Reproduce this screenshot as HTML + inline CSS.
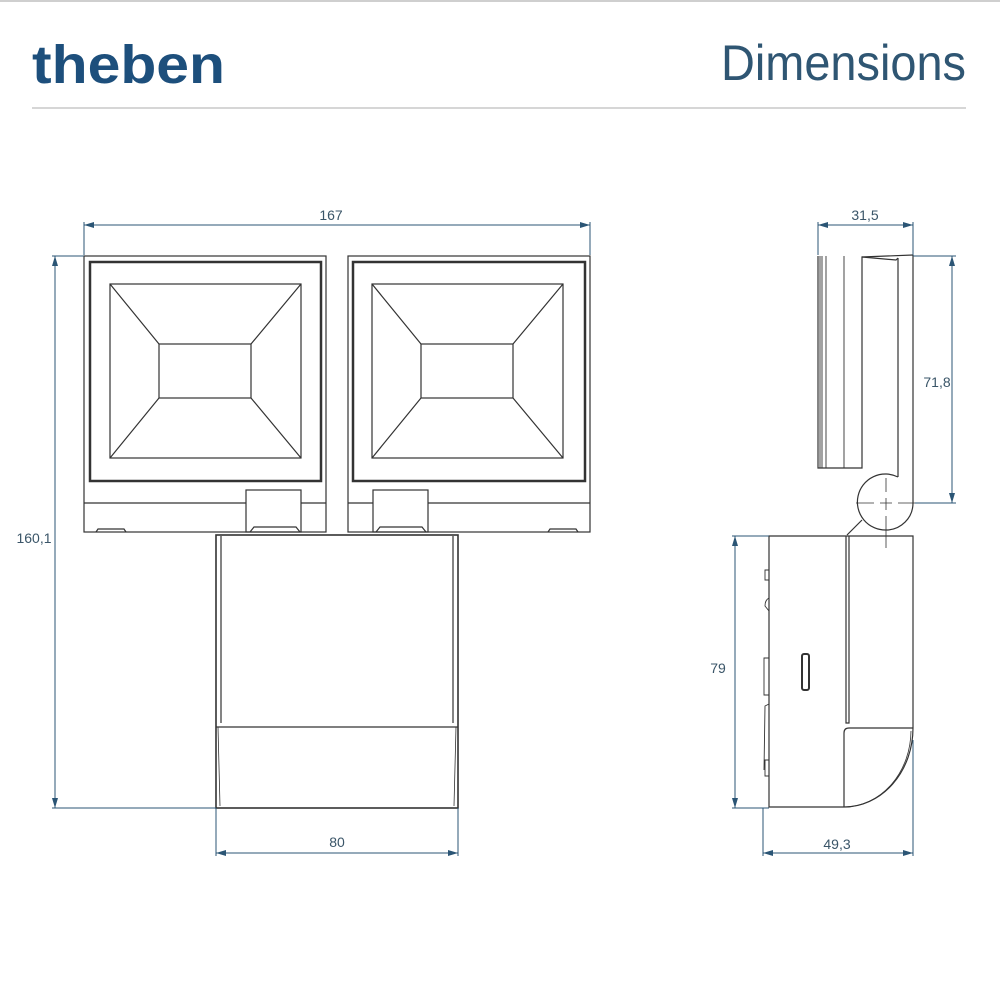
<!DOCTYPE html>
<html><head><meta charset="utf-8"><style>
html,body{margin:0;padding:0;background:#fff;width:1000px;height:1000px;overflow:hidden}
</style></head><body>
<svg width="1000" height="1000" viewBox="0 0 1000 1000" xmlns="http://www.w3.org/2000/svg">
<defs>
<marker id="a" viewBox="0 0 10 6" refX="10" refY="3" markerWidth="10" markerHeight="6" orient="auto-start-reverse" markerUnits="userSpaceOnUse"><path d="M0,0 L10,3 L0,6 z" fill="#2b5575"/></marker>
</defs>
<rect x="0" y="0" width="1000" height="2" fill="#cfcfcf"/>
<text x="32" y="83" font-family="Liberation Sans, sans-serif" font-weight="bold" font-size="54" fill="#1d4f7c" textLength="193" lengthAdjust="spacingAndGlyphs">theben</text>
<text x="721" y="80" font-family="Liberation Sans, sans-serif" font-size="50" fill="#2f5673" textLength="245" lengthAdjust="spacingAndGlyphs" style="font-weight:300">Dimensions</text>
<line x1="32" y1="108" x2="966" y2="108" stroke="#c8c8c8" stroke-width="1.5"/>

<g fill="none" stroke="#333" stroke-width="1.2">
<!-- front left panel -->
<rect x="84" y="256" width="242" height="276"/>
<rect x="90" y="262" width="231" height="219" stroke-width="2.5"/>
<rect x="110" y="284" width="191" height="174"/>
<rect x="159" y="344" width="92" height="54"/>
<path d="M110,284 L159,344 M301,284 L251,344 M110,458 L159,398 M301,458 L251,398"/>
<path d="M84,503 L246,503 M301,503 L326,503"/>
<rect x="246" y="490" width="55" height="42"/>
<path d="M250,532 L254,527 L296,527 L300,532"/>
<path d="M96,532 L98,529 L124,529 L126,532"/>
<!-- front right panel -->
<rect x="348" y="256" width="242" height="276"/>
<rect x="353" y="262" width="232" height="219" stroke-width="2.5"/>
<rect x="372" y="284" width="191" height="174"/>
<rect x="421" y="344" width="92" height="54"/>
<path d="M372,284 L421,344 M563,284 L513,344 M372,458 L421,398 M563,458 L513,398"/>
<path d="M348,503 L373,503 M428,503 L590,503"/>
<rect x="373" y="490" width="55" height="42"/>
<path d="M376,532 L380,527 L422,527 L426,532"/>
<path d="M548,532 L550,529 L576,529 L578,532"/>
<!-- front body -->
<rect x="216" y="535" width="242" height="273" stroke-width="1.6"/>
<path d="M216,727 L458,727"/>
<path d="M221,536 L221,723 M453,536 L453,723"/>
<path d="M218,727 L220,806 M456,727 L454,806" stroke-width="0.8"/>

<!-- side head -->
<path d="M818,256 L818,468 L862,468 L862,257 L913,255"/>
<path d="M820,256 L820,468 M822,256 L822,468 M826,256 L826,468 M844,256 L844,468" stroke-width="0.9"/>
<path d="M862,257 L896,260 L898,258"/>
<path d="M898,258 L898,477"/>
<path d="M913,255 L913,503 A27,27 0 0 1 886,530"/>
<path d="M898,477 A28,28 0 1 0 886,530"/>
<path d="M847,535 L862,520"/>
<!-- side body -->
<path d="M769,536 L913,536 L913,728 A69,79 0 0 1 844,807 L769,807 Z"/>
<path d="M846,536 L846,723 L849,723 L849,536"/>
<path d="M844,807 L844,733 Q844,728 849,728 L913,728"/>
<path d="M846,807 A67,77 0 0 0 911,731" stroke-width="0.8"/>
<rect x="802" y="654" width="7" height="36" rx="2" stroke-width="2"/>
<path d="M769,570 L765,570 L765,580 L769,580 M769,598 Q765,600 765,606 L769,611 M769,658 L764,658 L764,695 L769,695 M769,704 L765,706 L764,770 M769,760 L765,760 L765,776 L769,776" stroke-width="0.9"/>
</g>

<!-- center lines -->
<g stroke="#333" stroke-width="0.8" fill="none">
<path d="M886,478 L886,492 M886,498 L886,510 M886,516 L886,548"/>
<path d="M856,503 L874,503 M880,503 L892,503 M898,503 L915,503"/>
</g>

<!-- dimension lines -->
<g stroke="#2b5575" stroke-width="1" fill="none">
<path d="M84,222 L84,255 M590,222 L590,255"/>
<line x1="84" y1="225" x2="590" y2="225" marker-start="url(#a)" marker-end="url(#a)"/>
<path d="M52,256 L84,256 M52,808 L216,808"/>
<line x1="55" y1="256" x2="55" y2="808" marker-start="url(#a)" marker-end="url(#a)"/>
<path d="M216,808 L216,856 M458,808 L458,856"/>
<line x1="216" y1="853" x2="458" y2="853" marker-start="url(#a)" marker-end="url(#a)"/>
<path d="M818,222 L818,255 M913,222 L913,255"/>
<line x1="818" y1="225" x2="913" y2="225" marker-start="url(#a)" marker-end="url(#a)"/>
<path d="M913,256 L956,256 M915,503 L956,503"/>
<line x1="952" y1="256" x2="952" y2="503" marker-start="url(#a)" marker-end="url(#a)"/>
<path d="M732,536 L769,536 M732,808 L769,808"/>
<line x1="735" y1="536" x2="735" y2="808" marker-start="url(#a)" marker-end="url(#a)"/>
<path d="M763,808 L763,856 M913,740 L913,856"/>
<line x1="763" y1="853" x2="913" y2="853" marker-start="url(#a)" marker-end="url(#a)"/>
</g>
<g font-family="Liberation Sans, sans-serif" font-size="14" fill="#3a5568" text-anchor="middle">
<text x="331" y="220">167</text>
<text x="34" y="543">160,1</text>
<text x="337" y="847">80</text>
<text x="865" y="220">31,5</text>
<text x="937" y="387">71,8</text>
<text x="718" y="673">79</text>
<text x="837" y="849">49,3</text>
</g>
</svg>
</body></html>
